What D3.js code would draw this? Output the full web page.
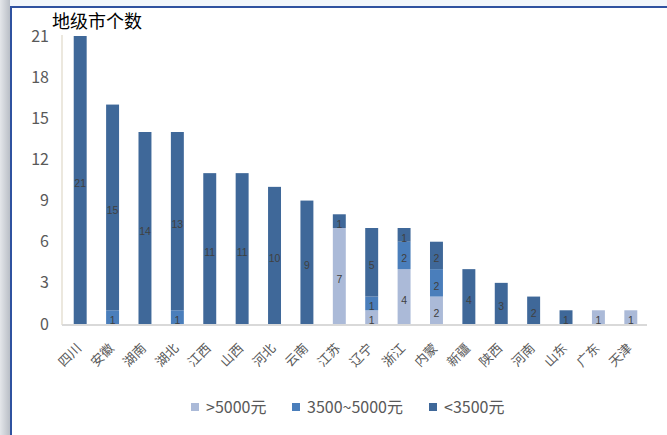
<!DOCTYPE html>
<html><head><meta charset="utf-8">
<script src="https://cdn.jsdelivr.net/npm/d3@7"></script>
<style>body{margin:0;background:#fff}svg{display:block}</style>
</head><body>
<svg id="c" width="667" height="435"></svg>
<script>
const categories = ["四川","安徽","湖南","湖北","江西","山西","河北","云南","江苏","辽宁","浙江","内蒙","新疆","陕西","河南","山东","广东","天津"];
const high = [0,0,0,0,0,0,0,0,7,1,4,2,0,0,0,0,1,1];
const mid  = [0,1,0,1,0,0,0,0,0,1,2,2,0,0,0,0,0,0];
const low  = [21,15,14,13,11,11,10,9,1,5,1,2,4,3,2,1,0,0];
const seriesNames = [">5000元","3500~5000元","<3500元"];
const colors = ["#abbad8","#4a7ebb","#3f6899"];
const yTicks = [0,3,6,9,12,15,18,21];
const title = "地级市个数";

const svg = d3.select("#c");
const font = "'Noto Sans CJK SC','Noto Sans',sans-serif";

// frame decoration
const grad = svg.append("defs").append("linearGradient").attr("id","g").attr("x1","0").attr("x2","1");
grad.append("stop").attr("offset","0").attr("stop-color","#e4e6ea");
grad.append("stop").attr("offset","1").attr("stop-color","#b9bec6");
svg.append("rect").attr("x",0).attr("y",0).attr("width",667).attr("height",6).attr("fill","#f1f6fb");
svg.append("rect").attr("x",0).attr("y",0).attr("width",10).attr("height",435).attr("fill","url(#g)");
svg.append("rect").attr("x",10).attr("y",6).attr("width",657).attr("height",2).attr("fill","#2f52a0");
svg.append("rect").attr("x",10).attr("y",6).attr("width",2).attr("height",429).attr("fill","#2f52a0");

const x = d3.scaleBand().domain(categories).range([64,647]).paddingInner(0.6).paddingOuter(0.3);
const y = d3.scaleLinear().domain([0,21]).range([324,36]);

// axis lines
svg.append("line").attr("x1",62).attr("x2",62).attr("y1",35).attr("y2",325).attr("stroke","#ece8de").attr("stroke-width",2);
svg.append("line").attr("x1",62).attr("x2",647).attr("y1",325).attr("y2",325).attr("stroke","#d9d9d9").attr("stroke-width",2);

// y tick labels
const yAxis = d3.axisLeft(y).tickValues(yTicks).tickSize(0).tickPadding(0);
const ga = svg.append("g").attr("transform","translate(49,0)").call(yAxis);
ga.select(".domain").remove();
ga.selectAll("text").attr("font-family",font).attr("font-size",16).attr("fill","#595959");

// stacked data
const rows = categories.map((c,i)=>({cat:c, high:high[i], mid:mid[i], low:low[i]}));
const stack = d3.stack().keys(["high","mid","low"])(rows);
stack.forEach((layer,k)=>{
  const g = svg.append("g");
  layer.forEach(d=>{
    const v = d[1]-d[0];
    if(v<=0) return;
    g.append("rect").attr("x",x(d.data.cat)).attr("width",x.bandwidth())
      .attr("y",y(d[1])).attr("height",y(d[0])-y(d[1])).attr("fill",colors[k]);
  });
});
stack.forEach((layer,k)=>{
  const g = svg.append("g");
  layer.forEach(d=>{
    const v = d[1]-d[0];
    if(v<=0) return;
    g.append("text").attr("x",x(d.data.cat)+x.bandwidth()/2).attr("y",(y(d[0])+y(d[1]))/2+7)
      .attr("text-anchor","middle").attr("font-family","'Liberation Sans',sans-serif").attr("font-size",10.5).attr("fill","#404040").text(v);
  });
});

// x labels
svg.append("g").selectAll("text").data(categories).join("text")
  .attr("transform",d=>`translate(${x(d)+x.bandwidth()/2+2},349) rotate(-45)`)
  .attr("text-anchor","end").attr("font-family",font).attr("font-size",13).attr("fill","#595959").text(d=>d);

// title
svg.append("text").attr("x",52).attr("y",28).attr("font-family",font).attr("font-size",18).attr("fill","#000").text(title);

// legend
const legX = [191,292,429];
seriesNames.forEach((n,i)=>{
  svg.append("rect").attr("x",legX[i]).attr("y",403).attr("width",8).attr("height",8).attr("fill",colors[i]);
  svg.append("text").attr("x",legX[i]+15).attr("y",413).attr("font-family",font).attr("font-size",16).attr("fill","#595959").text(n);
});
</script>
</body></html>
